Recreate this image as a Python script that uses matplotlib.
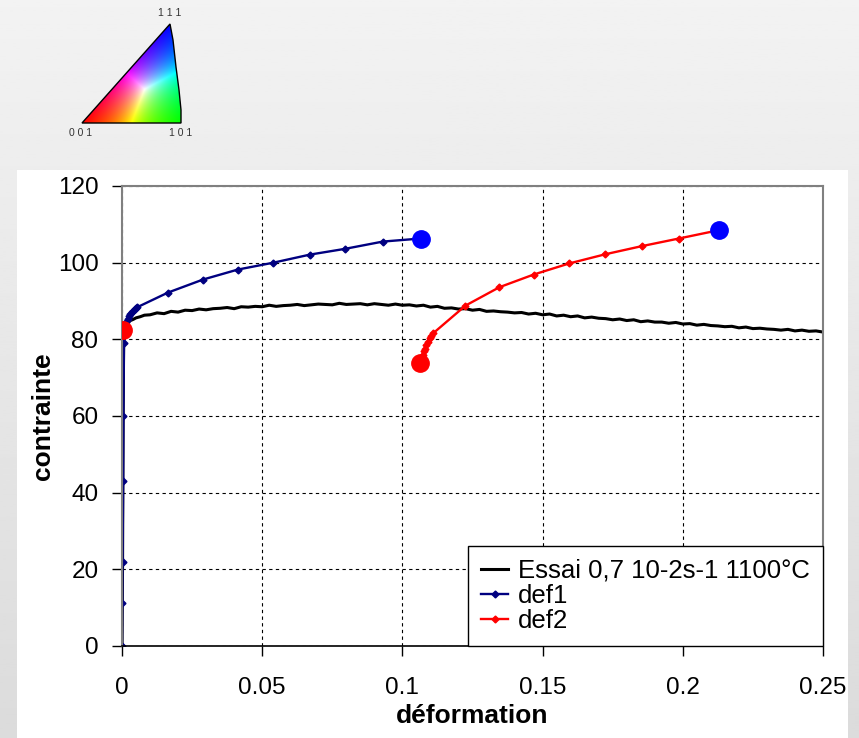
import numpy as np
import matplotlib
matplotlib.use("Agg")
import matplotlib.pyplot as plt
from matplotlib.patches import Polygon, Rectangle

plt.rcParams['font.family'] = ['Liberation Sans', 'DejaVu Sans']

# test curve (strain, stress)
essai_x = [0, 0.0002, 0.0003, 0.0004, 0.0005, 0.0006, 0.0008, 0.001, 0.0015, 0.002,
           0.003, 0.004, 0.005, 0.0065, 0.008, 0.01,
           0.0125, 0.015, 0.0175, 0.02, 0.0225, 0.025, 0.0275, 0.03, 0.0325, 0.035,
           0.0375, 0.04, 0.0425, 0.045, 0.0475, 0.05, 0.0525, 0.055, 0.0575, 0.06,
           0.0625, 0.065, 0.0675, 0.07, 0.0725, 0.075, 0.0775, 0.08, 0.0825, 0.085,
           0.0875, 0.09, 0.0925, 0.095, 0.0975, 0.1, 0.1025, 0.105, 0.1075, 0.11,
           0.1125, 0.115, 0.1175, 0.12, 0.1225, 0.125, 0.1275, 0.13, 0.1325, 0.135,
           0.1375, 0.14, 0.1425, 0.145, 0.1475, 0.15, 0.1525, 0.155, 0.1575, 0.16,
           0.1625, 0.165, 0.1675, 0.17, 0.1725, 0.175, 0.1775, 0.18, 0.1825, 0.185,
           0.1875, 0.19, 0.1925, 0.195, 0.1975, 0.2, 0.2025, 0.205, 0.2075, 0.21,
           0.2125, 0.215, 0.2175, 0.22, 0.2225, 0.225, 0.2275, 0.23, 0.2325, 0.235,
           0.2375, 0.24, 0.2425, 0.245, 0.2475, 0.25]
essai_y = [0, 22, 42, 60, 70, 80, 82.6, 83.4, 83.9, 84.3,
           84.9, 85.2, 85.6, 85.9, 86.3, 86.4,
           86.9, 86.7, 87.3, 87.1, 87.6, 87.5, 87.9, 87.7, 88.0, 88.1,
           88.3, 88.0, 88.5, 88.4, 88.6, 88.5, 88.9, 88.6, 88.8, 88.9,
           89.1, 88.8, 89.0, 89.2, 89.1, 89.0, 89.4, 89.1, 89.2, 89.3,
           89.0, 89.3, 89.1, 88.9, 89.2, 88.9, 89.0, 88.7, 88.9, 88.4,
           88.6, 88.1, 88.2, 87.9, 88.0, 87.6, 87.8, 87.3, 87.4, 87.2,
           87.1, 86.9, 87.0, 86.6, 86.8, 86.4, 86.6, 86.1, 86.3, 85.9,
           86.1, 85.6, 85.8, 85.5, 85.4, 85.1, 85.3, 84.9, 85.1, 84.6,
           84.8, 84.5, 84.5, 84.2, 84.4, 84.0, 84.1, 83.7, 83.9, 83.6,
           83.5, 83.3, 83.4, 83.0, 83.2, 82.8, 82.9, 82.7, 82.6, 82.4,
           82.6, 82.2, 82.4, 82.1, 82.2, 81.9]

def1_x = [0, 0.0001, 0.0002, 0.0004, 0.0005, 0.0007, 0.0009, 0.0012, 0.0016, 0.002,
          0.0025, 0.003, 0.0035, 0.004, 0.0045, 0.005, 0.0055, 0.0164, 0.0289, 0.0413,
          0.054, 0.067, 0.0795, 0.093, 0.1065]
def1_y = [0, 11.3, 22, 43, 60, 79, 82, 83.5, 84.5, 85.3,
          86, 86.6, 87.1, 87.5, 87.8, 88.1, 88.4, 92.2, 95.6, 98.2,
          100.0, 102.1, 103.6, 105.5, 106.3]

def2_x = [0.1064, 0.1068, 0.1072, 0.1076, 0.108, 0.1085, 0.109, 0.1097, 0.1103, 0.111,
          0.1225, 0.1346, 0.1468, 0.1595, 0.1724, 0.1853, 0.1986, 0.2130]
def2_y = [73.8, 75.0, 76.0, 77.0, 77.6, 78.5, 79.4, 80.3, 81.0, 81.6,
          88.8, 93.6, 96.9, 99.8, 102.2, 104.3, 106.3, 108.5]

# highlighted states
red_pts_x = [0.0005, 0.1064]
red_pts_y = [82.5, 73.8]
blue_pts_x = [0.1065, 0.2130]
blue_pts_y = [106.3, 108.5]

xticks = [0, 0.05, 0.1, 0.15, 0.2, 0.25]
xtick_labels = ['0', '0.05', '0.1', '0.15', '0.2', '0.25']
yticks = [0, 20, 40, 60, 80, 100, 120]

W, H = 859, 738
fig = plt.figure(figsize=(W / 100, H / 100), dpi=100)

# background in pixel coordinates
bg = fig.add_axes([0, 0, 1, 1])
bg.set_axis_off()
grad = np.linspace(0.95, 0.86, 256).reshape(-1, 1)
bg.imshow(grad, cmap='gray', vmin=0, vmax=1, extent=(0, W, H, 0), aspect='auto')
bg.add_patch(Rectangle((17, 170), 848 - 17, H - 170, facecolor='white', edgecolor='none'))

# inverse pole figure colour key
A = np.array([82.0, 123.0])
B = np.array([181.0, 123.0])
C = np.array([170.0, 24.0])
xs = np.arange(78, 186, 0.5)
ys = np.arange(20, 127, 0.5)
px, py = np.meshgrid(xs, ys)
det = (B[1] - C[1]) * (A[0] - C[0]) + (C[0] - B[0]) * (A[1] - C[1])
wa = ((B[1] - C[1]) * (px - C[0]) + (C[0] - B[0]) * (py - C[1])) / det
wb = ((C[1] - A[1]) * (px - C[0]) + (A[0] - C[0]) * (py - C[1])) / det
wc = 1 - wa - wb
rgb = np.clip(np.dstack([wa, wb, wc]), 0, None)
rgb = rgb / np.maximum(rgb.max(axis=2, keepdims=True), 1e-9)
img = bg.imshow(rgb, extent=(xs[0], xs[-1], ys[-1], ys[0]), aspect='auto',
                interpolation='bilinear')
tri = [A, B, (181, 110), (179, 90), (176, 67), (173, 40), C]
clip = Polygon(tri, closed=True, facecolor='none', edgecolor='black', lw=1.0)
bg.add_patch(clip)
img.set_clip_path(clip)
bg.text(170, 13, '1 1 1', fontsize=7.5, color='#333333', ha='center', va='center')
bg.text(81, 133, '0 0 1', fontsize=7.5, color='#333333', ha='center', va='center')
bg.text(181, 133, '1 0 1', fontsize=7.5, color='#333333', ha='center', va='center')
bg.set_xlim(0, W)
bg.set_ylim(H, 0)

# main chart
ax = fig.add_axes([122 / W, 1 - 646 / H, (823 - 122) / W, (646 - 186) / H])
ax.set_facecolor('white')
ax.plot(essai_x, essai_y, color='black', lw=2.2, label='Essai 0,7 10-2s-1 1100°C')
ax.plot(def1_x, def1_y, color='#000080', lw=1.7, marker='D', markersize=3.5,
        label='def1')
ax.plot(def2_x, def2_y, color='#ff0000', lw=1.7, marker='D', markersize=3.5,
        label='def2')
ax.plot(red_pts_x, red_pts_y, 'o', color='#ff0000', markersize=12.5, zorder=5)
ax.plot(blue_pts_x, blue_pts_y, 'o', color='#0000ff', markersize=12.5, zorder=5)

ax.set_xlim(0, 0.25)
ax.set_ylim(0, 120)
ax.set_xticks(xticks)
ax.set_xticklabels(xtick_labels)
ax.set_yticks(yticks)
ax.tick_params(axis='both', labelsize=17.5, direction='out', length=7, width=1)
ax.tick_params(axis='y', pad=10)
ax.tick_params(axis='x', pad=15)
ax.grid(True, color='black', linestyle=(0, (3, 3)), lw=0.8)
ax.set_axisbelow(True)
for side in ['left', 'top', 'right']:
    ax.spines[side].set_color('#808080')
    ax.spines[side].set_linewidth(1.5)
ax.spines['bottom'].set_color('black')
ax.spines['bottom'].set_linewidth(1.2)

leg = ax.legend(loc='lower right', bbox_to_anchor=(1.0, 0.0), borderaxespad=0,
                fontsize=18.5, fancybox=False, framealpha=1, edgecolor='black',
                handlelength=1.05, handletextpad=0.4, labelspacing=0.05,
                borderpad=0.5)
leg.get_frame().set_linewidth(1.0)

fig.text(472 / W, 1 - 716 / H, 'déformation', fontsize=19, fontweight='bold',
         ha='center', va='center')
fig.text(43 / W, 1 - 416 / H, 'contrainte', fontsize=19, fontweight='bold',
         rotation=90, ha='center', va='center')

fig.savefig('out.png', dpi=100)
